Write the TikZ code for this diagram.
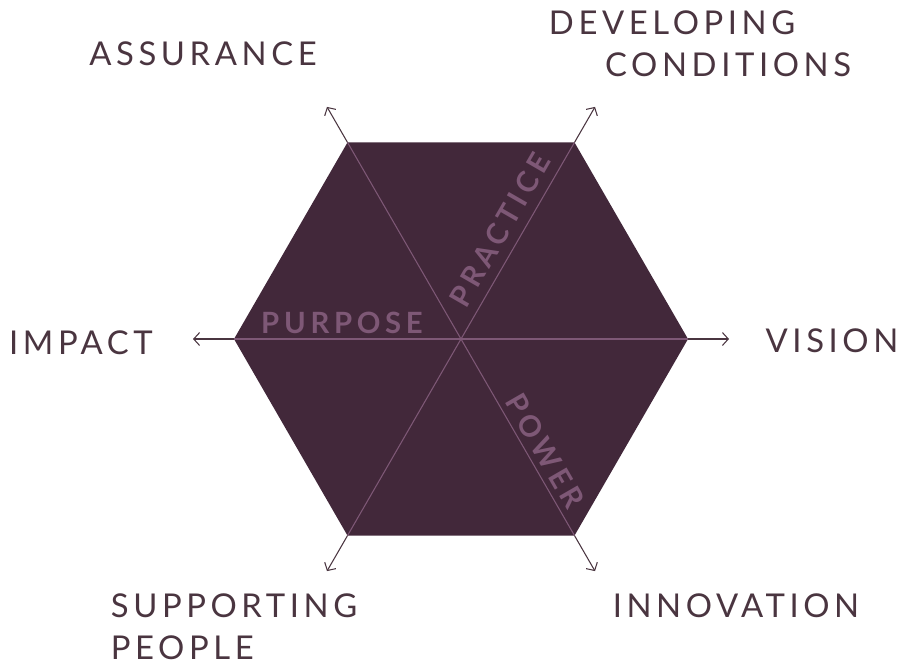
\documentclass[tikz,border=0pt]{standalone}
\usepackage{fontspec}
\setmainfont{Lato}
\usetikzlibrary{calc}
\usetikzlibrary{arrows.meta}

\definecolor{plum}{HTML}{42283A}
\definecolor{plumline}{HTML}{7E5876}
\definecolor{plumtext}{HTML}{4A3540}

\tikzset{
  axis arrow/.style={plumtext, line width=0.9pt, -{Straight Barb[length=5pt,width=11pt]}},
  spoke/.style={plumline, line width=0.9pt},
  outer label/.style={plumtext, inner sep=0pt, align=left,
    font=\fontsize{28}{36}\selectfont\addfontfeatures{LetterSpace=14}},
  inner label/.style={plumline, inner sep=0pt,
    font=\fontsize{25}{28}\selectfont\bfseries\addfontfeatures{LetterSpace=16}}
}

\begin{document}
\begin{tikzpicture}[x=0.03cm, y=-0.03cm]
\useasboundingbox (0,0) rectangle (901,665);

\coordinate (c) at (461,339);
% corners of the hexagon and the arrow ends (angles run clockwise here)
\foreach \i [evaluate=\i as \a using 60*\i] in {0,...,5}{
  \coordinate (v\i) at ($(c)+(\a:227)$);
  \coordinate (t\i) at ($(c)+(\a:268)$);
}

\fill[plum] (v0) -- (v1) -- (v2) -- (v3) -- (v4) -- (v5) -- cycle;

\draw[spoke] (v0) -- (v3);
\draw[spoke] (v1) -- (v4);
\draw[spoke] (v2) -- (v5);

\foreach \i in {0,...,5}
  \draw[axis arrow] (v\i) -- (t\i);

% names on the spokes
\node[inner label] (purpose) at (342,323) {PURPOSE};
\node[inner label, rotate=60] (practice) at (500,230) {PRACTICE};
\node[inner label, rotate=-60] (power) at (545,451) {POWER};

% names at the arrow ends
\node[outer label] (vision) at (832,341) {VISION};
\node[outer label] (innovation) at (736,606) {INNOVATION};
\node[outer label] (supporting) at (234,627) {SUPPORTING\\PEOPLE};
\node[outer label] (impact) at (81,343) {IMPACT};
\node[outer label] (assurance) at (203,54) {ASSURANCE};
\node[outer label] (developing) at (700,44) {DEVELOPING\\\hspace*{48pt}CONDITIONS};

\end{tikzpicture}
\end{document}
